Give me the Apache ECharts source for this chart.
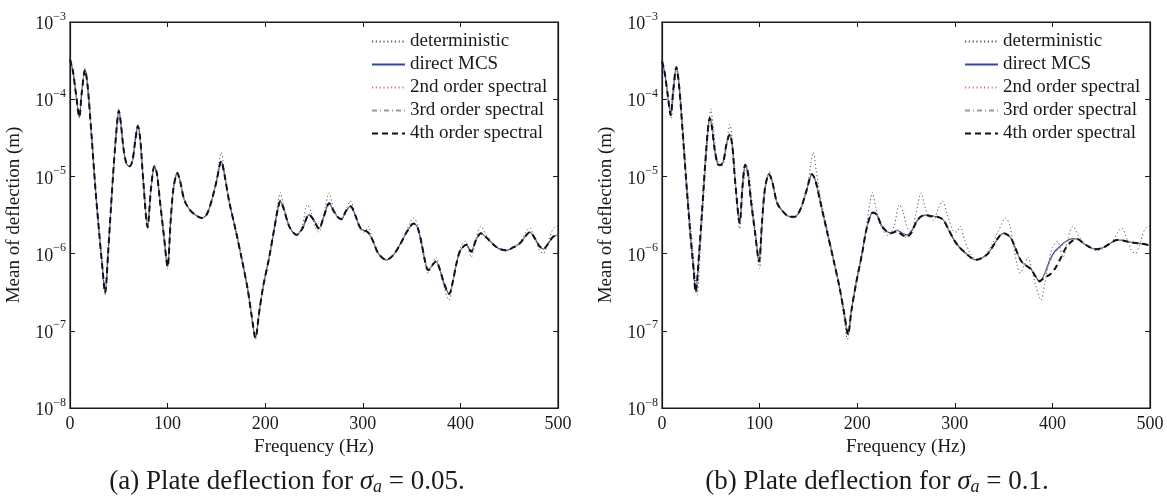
<!DOCTYPE html>
<html>
<head>
<meta charset="utf-8">
<script src="https://cdn.jsdelivr.net/npm/echarts@6/dist/echarts.min.js"></script>
<style>
html,body{margin:0;padding:0;background:#fff;}
#chart{width:1167px;height:502px;}
</style>
</head>
<body>
<div id="chart"></div>
<script>
// ---------------- data (frequency in Hz, mean deflection in m) ----------------
const seriesNames = ['deterministic', 'direct MCS', '2nd order spectral', '3rd order spectral', '4th order spectral'];
const xTicks = [0, 100, 200, 300, 400, 500];
const yDecades = [-8, -7, -6, -5, -4, -3];
const captions = ['(a) Plate deflection for {i|σ}{sub|a} = 0.05.', '(b) Plate deflection for {i|σ}{sub|a} = 0.1.'];

// deterministic response (same in both panels)
const deterministic = [[0,3.4e-4],[3,2.3e-4],[6,1.2e-4],[9.5,5.7e-5],[12,1.2e-4],[15.4,2.5e-4],[18,1.5e-4],[22,3.5e-5],[26,7e-6],[30,1.8e-6],[33,7e-7],[36,2.9e-7],[39,1.0e-6],[42,4e-6],[45,1.5e-5],[48,4.8e-5],[50,7.5e-5],[52,5e-5],[55,2.2e-5],[58,1.45e-5],[61,1.35e-5],[64,1.6e-5],[67,3.1e-5],[69.5,4.7e-5],[72,3e-5],[75,9e-6],[79.5,2.1e-6],[83,7e-6],[86.5,1.4e-5],[89,1.1e-5],[92,5e-6],[96,1.8e-6],[100,6.4e-7],[103,2.5e-6],[106,7e-6],[110,1.15e-5],[113,8.5e-6],[117,5e-6],[122,3.8e-6],[128,3.2e-6],[135,2.9e-6],[140,3.2e-6],[145,4.8e-6],[150,9e-6],[155,2.05e-5],[158,1.2e-5],[163,4.8e-6],[170,1.95e-6],[176,8.5e-7],[182,3.5e-7],[186,1.6e-7],[190,7.8e-8],[194,1.8e-7],[198,3.8e-7],[204,8.8e-7],[209,2.1e-6],[213,4.5e-6],[215.5,6.2e-6],[219,4.0e-6],[225,2.2e-6],[232,1.7e-6],[238,2.3e-6],[243,4.3e-6],[247,3.5e-6],[251,2.2e-6],[255,1.9e-6],[260,3.2e-6],[265.5,6.1e-6],[270,3.8e-6],[274,3.0e-6],[278,2.7e-6],[283,3.8e-6],[287.5,4.8e-6],[292,3.3e-6],[298,2.0e-6],[302,1.9e-6],[305.5,2.25e-6],[310,1.5e-6],[316,1.0e-6],[324,8.2e-7],[331,9.5e-7],[338,1.3e-6],[345,2.0e-6],[352,2.9e-6],[356,2.4e-6],[360,1.3e-6],[364,7.0e-7],[367,5.6e-7],[371,7e-7],[375,9.0e-7],[379,6.2e-7],[383,3.8e-7],[388.5,2.5e-7],[392,4.0e-7],[396,7.5e-7],[400,1.2e-6],[405,1.45e-6],[411,9e-7],[416,1.6e-6],[421,2.25e-6],[427,1.7e-6],[434,1.3e-6],[440,1.15e-6],[447,1.1e-6],[454,1.2e-6],[461,1.4e-6],[467,1.9e-6],[471,2.15e-6],[476,1.6e-6],[481,1.1e-6],[485,1.0e-6],[490,1.4e-6],[495,2.1e-6],[500,2.3e-6]];

// panel (a), sigma_a = 0.05 : MCS and spectral solutions coincide
const leftMean = [[0,3.3e-4],[3,2.3e-4],[6,1.2e-4],[9.5,5.9e-5],[12,1.2e-4],[15.4,2.4e-4],[18,1.5e-4],[22,3.5e-5],[26,7e-6],[30,1.8e-6],[33,7e-7],[36,3.1e-7],[39,1.0e-6],[42,4e-6],[45,1.5e-5],[48,4.5e-5],[50,7.1e-5],[52,5e-5],[55,2.2e-5],[58,1.45e-5],[61,1.35e-5],[64,1.6e-5],[67,3.0e-5],[69.5,4.5e-5],[72,3e-5],[75,9e-6],[79.5,2.2e-6],[83,7e-6],[86.5,1.35e-5],[89,1.1e-5],[92,5e-6],[96,1.8e-6],[100,6.8e-7],[103,2.5e-6],[106,7e-6],[110,1.1e-5],[113,8.5e-6],[117,5e-6],[122,3.8e-6],[128,3.2e-6],[135,2.9e-6],[140,3.2e-6],[145,4.8e-6],[150,8.5e-6],[155,1.57e-5],[158,1.1e-5],[163,4.8e-6],[170,1.95e-6],[176,8.5e-7],[182,3.5e-7],[186,1.6e-7],[190,8.1e-8],[194,1.8e-7],[198,3.8e-7],[204,8.8e-7],[209,2.0e-6],[213,3.8e-6],[215.5,4.8e-6],[219,3.8e-6],[225,2.2e-6],[232,1.75e-6],[238,2.1e-6],[245,3.2e-6],[250,2.7e-6],[255,2.1e-6],[260,3.0e-6],[265.5,4.5e-6],[270,3.6e-6],[274,3.0e-6],[278,2.8e-6],[283,3.6e-6],[287.5,4.1e-6],[292,3.2e-6],[298,2.1e-6],[305,1.9e-6],[310,1.5e-6],[316,1.0e-6],[324,8.3e-7],[331,9.5e-7],[338,1.3e-6],[345,1.9e-6],[352,2.45e-6],[356,2.2e-6],[360,1.4e-6],[364,7.8e-7],[367,6.1e-7],[371,7e-7],[375,7.9e-7],[379,6.2e-7],[383,4.2e-7],[388.5,3.0e-7],[392,4.2e-7],[396,7.5e-7],[400,1.1e-6],[406,1.3e-6],[411,1.06e-6],[416,1.5e-6],[421,1.83e-6],[427,1.6e-6],[434,1.3e-6],[440,1.15e-6],[447,1.1e-6],[454,1.2e-6],[461,1.36e-6],[467,1.7e-6],[471,1.9e-6],[476,1.6e-6],[481,1.25e-6],[485,1.15e-6],[490,1.35e-6],[495,1.65e-6],[500,1.75e-6]];

// panel (b), sigma_a = 0.1
const rightMCS = [[0,3.1e-4],[2.7,2.2e-4],[6,1.1e-4],[8.9,6.2e-5],[11.5,1.3e-4],[14.7,2.6e-4],[17.5,1.5e-4],[21,4e-5],[25,8e-6],[29,1.8e-6],[32,7e-7],[34.5,3.2e-7],[38,1.0e-6],[41,3.5e-6],[44,1.3e-5],[47,4e-5],[49,5.7e-5],[51,4.5e-5],[54,2.2e-5],[57,1.45e-5],[59.5,1.39e-5],[63,1.6e-5],[66,2.6e-5],[69.4,3.5e-5],[72,2.5e-5],[75,8.5e-6],[79.6,2.5e-6],[82.5,7.5e-6],[85.3,1.42e-5],[88,1.1e-5],[91,5e-6],[95.5,1.8e-6],[99.4,7.9e-7],[102.5,2.6e-6],[105.5,7e-6],[109.6,1.07e-5],[113,8.5e-6],[118,4.5e-6],[124,3.5e-6],[131,3.0e-6],[136,3.0e-6],[142,3.8e-6],[148,6.5e-6],[153.7,1.07e-5],[157,9e-6],[162,4.8e-6],[169,1.95e-6],[176,8e-7],[182,3.6e-7],[187,1.6e-7],[190.6,8.9e-8],[194,1.8e-7],[199,4.2e-7],[205,1.0e-6],[210,2.2e-6],[216,3.4e-6],[220,3.2e-6],[225,2.3e-6],[230,1.95e-6],[235,1.85e-6],[241,2.0e-6],[246,1.85e-6],[251,1.75e-6],[256,2.0e-6],[260,2.5e-6],[265,3.0e-6],[270,3.15e-6],[276,3.05e-6],[282,3.0e-6],[288,2.75e-6],[294,2.0e-6],[300,1.45e-6],[305,1.2e-6],[311,1.02e-6],[317,8.8e-7],[322,8.3e-7],[328,8.8e-7],[334,1.0e-6],[340,1.3e-6],[346,1.7e-6],[350,1.83e-6],[354,1.75e-6],[358,1.55e-6],[363,1.1e-6],[368,8e-7],[373,7e-7],[378,6.3e-7],[383,5e-7],[387,4.3e-7],[392,5.5e-7],[397,8e-7],[402,1.05e-6],[408,1.25e-6],[414,1.45e-6],[420,1.55e-6],[426,1.55e-6],[432,1.35e-6],[439,1.2e-6],[445,1.14e-6],[452,1.2e-6],[459,1.35e-6],[466,1.5e-6],[472,1.48e-6],[478,1.42e-6],[484,1.38e-6],[490,1.35e-6],[495,1.32e-6],[500,1.28e-6]];
const right2nd = [[0,3.1e-4],[2.7,2.2e-4],[6,1.1e-4],[8.9,6.2e-5],[11.5,1.3e-4],[14.7,2.6e-4],[17.5,1.5e-4],[21,4e-5],[25,8e-6],[29,1.8e-6],[32,7e-7],[34.5,3.2e-7],[38,1.0e-6],[41,3.5e-6],[44,1.3e-5],[47,4e-5],[49,5.8e-5],[51,4.5e-5],[54,2.2e-5],[57,1.45e-5],[59.5,1.39e-5],[63,1.6e-5],[66,2.6e-5],[69.4,3.6e-5],[72,2.5e-5],[75,8.5e-6],[79.6,2.5e-6],[82.5,7.5e-6],[85.3,1.42e-5],[88,1.1e-5],[91,5e-6],[95.5,1.8e-6],[99.4,7.9e-7],[102.5,2.6e-6],[105.5,7e-6],[109.6,1.07e-5],[113,8.5e-6],[118,4.5e-6],[124,3.5e-6],[131,3.0e-6],[136,3.0e-6],[142,3.8e-6],[148,6.6e-6],[153.7,1.1e-5],[157,9e-6],[162,4.8e-6],[169,1.95e-6],[176,8e-7],[182,3.6e-7],[187,1.6e-7],[190.6,8.9e-8],[194,1.8e-7],[199,4.2e-7],[205,1.0e-6],[210,2.2e-6],[216,3.45e-6],[220,3.2e-6],[225,2.3e-6],[230,1.95e-6],[235,1.85e-6],[241,2.05e-6],[246,1.75e-6],[251,1.6e-6],[256,1.85e-6],[260,2.5e-6],[265,3.0e-6],[270,3.2e-6],[276,3.05e-6],[282,3.0e-6],[288,2.75e-6],[294,1.95e-6],[300,1.4e-6],[305,1.15e-6],[311,9.8e-7],[317,8.6e-7],[322,8.2e-7],[328,8.8e-7],[334,1.0e-6],[340,1.3e-6],[346,1.7e-6],[350,1.83e-6],[354,1.75e-6],[358,1.55e-6],[363,1.1e-6],[368,8e-7],[373,7e-7],[378,6.3e-7],[383,5e-7],[387,4.3e-7],[392,5.3e-7],[397,7.5e-7],[402,1.0e-6],[408,1.2e-6],[414,1.4e-6],[420,1.55e-6],[426,1.55e-6],[432,1.35e-6],[439,1.2e-6],[445,1.14e-6],[452,1.2e-6],[459,1.35e-6],[466,1.5e-6],[472,1.48e-6],[478,1.42e-6],[484,1.38e-6],[490,1.35e-6],[495,1.32e-6],[500,1.28e-6]];
const right3rd = [[0,3.1e-4],[2.7,2.2e-4],[6,1.1e-4],[8.9,6.2e-5],[11.5,1.3e-4],[14.7,2.6e-4],[17.5,1.5e-4],[21,4e-5],[25,8e-6],[29,1.8e-6],[32,7e-7],[34.5,3.2e-7],[38,1.0e-6],[41,3.5e-6],[44,1.3e-5],[47,4e-5],[49,5.7e-5],[51,4.5e-5],[54,2.2e-5],[57,1.45e-5],[59.5,1.39e-5],[63,1.6e-5],[66,2.6e-5],[69.4,3.5e-5],[72,2.5e-5],[75,8.5e-6],[79.6,2.5e-6],[82.5,7.5e-6],[85.3,1.42e-5],[88,1.1e-5],[91,5e-6],[95.5,1.8e-6],[99.4,7.9e-7],[102.5,2.6e-6],[105.5,7e-6],[109.6,1.07e-5],[113,8.5e-6],[118,4.5e-6],[124,3.5e-6],[131,3.0e-6],[136,3.0e-6],[142,3.8e-6],[148,6.5e-6],[153.7,1.07e-5],[157,9e-6],[162,4.8e-6],[169,1.95e-6],[176,8e-7],[182,3.6e-7],[187,1.6e-7],[190.6,8.9e-8],[194,1.8e-7],[199,4.2e-7],[205,1.0e-6],[210,2.2e-6],[216,3.4e-6],[220,3.2e-6],[225,2.3e-6],[230,1.95e-6],[235,1.85e-6],[241,2.0e-6],[246,1.8e-6],[251,1.68e-6],[256,1.95e-6],[260,2.5e-6],[265,3.0e-6],[270,3.15e-6],[276,3.05e-6],[282,3.0e-6],[288,2.75e-6],[294,2.0e-6],[300,1.45e-6],[305,1.2e-6],[311,1.0e-6],[317,8.7e-7],[322,8.3e-7],[328,8.8e-7],[334,1.0e-6],[340,1.3e-6],[346,1.7e-6],[350,1.83e-6],[354,1.75e-6],[358,1.55e-6],[363,1.1e-6],[368,8e-7],[373,7e-7],[378,6.3e-7],[383,5e-7],[387,4.3e-7],[392,5.4e-7],[397,7.8e-7],[402,1.0e-6],[408,1.22e-6],[414,1.45e-6],[420,1.55e-6],[426,1.55e-6],[432,1.35e-6],[439,1.2e-6],[445,1.14e-6],[452,1.2e-6],[459,1.35e-6],[466,1.5e-6],[472,1.48e-6],[478,1.42e-6],[484,1.38e-6],[490,1.35e-6],[495,1.32e-6],[500,1.28e-6]];
const right4th = [[0,3.1e-4],[2.7,2.2e-4],[6,1.1e-4],[8.9,6.2e-5],[11.5,1.3e-4],[14.7,2.6e-4],[17.5,1.5e-4],[21,4e-5],[25,8e-6],[29,1.8e-6],[32,7e-7],[34.5,3.2e-7],[38,1.0e-6],[41,3.5e-6],[44,1.3e-5],[47,4e-5],[49,5.7e-5],[51,4.5e-5],[54,2.2e-5],[57,1.45e-5],[59.5,1.39e-5],[63,1.6e-5],[66,2.6e-5],[69.4,3.5e-5],[72,2.5e-5],[75,8.5e-6],[79.6,2.5e-6],[82.5,7.5e-6],[85.3,1.42e-5],[88,1.1e-5],[91,5e-6],[95.5,1.8e-6],[99.4,7.9e-7],[102.5,2.6e-6],[105.5,7e-6],[109.6,1.07e-5],[113,8.5e-6],[118,4.5e-6],[124,3.5e-6],[131,3.0e-6],[136,3.0e-6],[142,3.8e-6],[148,6.5e-6],[153.7,1.07e-5],[157,9e-6],[162,4.8e-6],[169,1.95e-6],[176,8e-7],[182,3.6e-7],[187,1.6e-7],[190.6,8.9e-8],[194,1.8e-7],[199,4.2e-7],[205,1.0e-6],[210,2.2e-6],[216,3.4e-6],[220,3.2e-6],[225,2.3e-6],[230,1.95e-6],[235,1.85e-6],[241,1.95e-6],[246,1.75e-6],[251,1.65e-6],[256,1.9e-6],[260,2.5e-6],[265,3.0e-6],[270,3.15e-6],[276,3.05e-6],[282,3.0e-6],[288,2.75e-6],[294,2.0e-6],[300,1.45e-6],[305,1.2e-6],[311,1.02e-6],[317,8.8e-7],[322,8.3e-7],[328,8.8e-7],[334,1.0e-6],[340,1.3e-6],[346,1.7e-6],[350,1.83e-6],[354,1.75e-6],[358,1.55e-6],[363,1.1e-6],[368,8e-7],[373,7e-7],[378,6.3e-7],[383,5e-7],[387,4.4e-7],[392,4.9e-7],[397,5.3e-7],[402,6.2e-7],[408,8.5e-7],[414,1.2e-6],[420,1.45e-6],[426,1.53e-6],[432,1.35e-6],[439,1.2e-6],[445,1.14e-6],[452,1.2e-6],[459,1.35e-6],[466,1.5e-6],[472,1.48e-6],[478,1.42e-6],[484,1.38e-6],[490,1.35e-6],[495,1.32e-6],[500,1.28e-6]];

// ---------------- chart ----------------
const FONT = '"Liberation Serif", "DejaVu Serif", serif';
const INK = '#1a1a1a';
const styles = [
  { color: '#555555', width: 1, type: [1.2, 2.6] },       // deterministic
  { color: '#34479a', width: 1.2, type: 'solid' },       // direct MCS
  { color: '#e0707e', width: 1, type: [1.2, 2.6] },       // 2nd order
  { color: '#9a9a9a', width: 1, type: [5, 3, 1, 3] },     // 3rd order
  { color: '#111111', width: 2, type: [6, 4] }            // 4th order
];

const panels = [
  { left: 70, legendLeft: 371, data: [deterministic, leftMean, leftMean, leftMean, leftMean], captionX: 287 },
  { left: 662, legendLeft: 964, data: [deterministic, rightMCS, right2nd, right3rd, right4th], captionX: 877 }
];

const grids = [], xAxes = [], yAxes = [], series = [], legends = [];
const supFmt = v => {
  const e = Math.round(Math.log10(v));
  return '{b|10}{s|' + (e < 0 ? '\u2212' + (-e) : e) + '}';
};

panels.forEach((p, gi) => {
  grids.push({ left: p.left, top: 22, width: 488, height: 386, show: true,
    borderColor: INK, borderWidth: 1.2, backgroundColor: '#fff' });
  const xBase = { type: 'value', gridIndex: gi, min: 0, max: 500, interval: 100,
    axisLine: { show: true, onZero: false, lineStyle: { color: INK, width: 1.2 } },
    axisTick: { show: true, inside: true, length: 5, lineStyle: { color: INK } },
    splitLine: { show: false } };
  xAxes.push(Object.assign({}, xBase, { position: 'bottom',
    name: 'Frequency (Hz)', nameLocation: 'middle', nameGap: 24,
    nameTextStyle: { fontFamily: FONT, fontSize: 19, color: INK },
    axisLabel: { fontFamily: FONT, fontSize: 18, color: INK, margin: 7,
      formatter: v => xTicks.indexOf(v) >= 0 ? String(v) : '' } }));
  xAxes.push(Object.assign({}, xBase, { position: 'top', axisLabel: { show: false } }));
  const yBase = { type: 'log', logBase: 10, gridIndex: gi, min: 1e-8, max: 1e-3,
    axisLine: { show: true, onZero: false, lineStyle: { color: INK, width: 1.2 } },
    axisTick: { show: true, inside: true, length: 5, lineStyle: { color: INK } },
    splitLine: { show: false } };
  yAxes.push(Object.assign({}, yBase, { position: 'left',
    name: 'Mean of deflection (m)', nameLocation: 'middle', nameGap: 46,
    nameTextStyle: { fontFamily: FONT, fontSize: 19, color: INK },
    axisLabel: { margin: 4, formatter: supFmt,
      rich: { b: { fontFamily: FONT, fontSize: 18, color: INK, verticalAlign: 'bottom' },
              s: { fontFamily: FONT, fontSize: 12, color: INK, padding: [0, 0, 11, 0], verticalAlign: 'bottom' } } } }));
  yAxes.push(Object.assign({}, yBase, { position: 'right', axisLabel: { show: false } }));

  p.data.forEach((d, si) => {
    series.push({ type: 'line', name: seriesNames[si], xAxisIndex: gi * 2, yAxisIndex: gi * 2,
      data: d, symbol: 'none', smooth: 0.3, lineStyle: styles[si], z: 2 + si,
      itemStyle: { color: styles[si].color }, animation: false, silent: true });
  });

  legends.push({ show: true, orient: 'vertical', left: p.legendLeft, top: 32, padding: 0,
    itemWidth: 33, itemHeight: 14, itemGap: 4, selectedMode: false,
    itemStyle: { opacity: 0 },
    textStyle: { fontFamily: FONT, fontSize: 19, color: INK, lineHeight: 19 },
    data: seriesNames });
});

const chart = echarts.init(document.getElementById('chart'), null, { renderer: 'canvas' });
chart.setOption({
  backgroundColor: '#fff',
  animation: false,
  grid: grids, xAxis: xAxes, yAxis: yAxes, series: series, legend: legends,
  graphic: panels.map((p, i) => ({
    type: 'text', x: p.captionX, y: 482,
    style: { text: captions[i], fontFamily: FONT, fontSize: 27, fill: INK,
      align: 'center', verticalAlign: 'middle',
      rich: { i: { fontFamily: FONT, fontSize: 27, fontStyle: 'italic', fill: INK },
              sub: { fontFamily: FONT, fontSize: 18, fontStyle: 'italic', fill: INK, padding: [10, 0, 0, 0] } } }
  }))
});
</script>
</body>
</html>
